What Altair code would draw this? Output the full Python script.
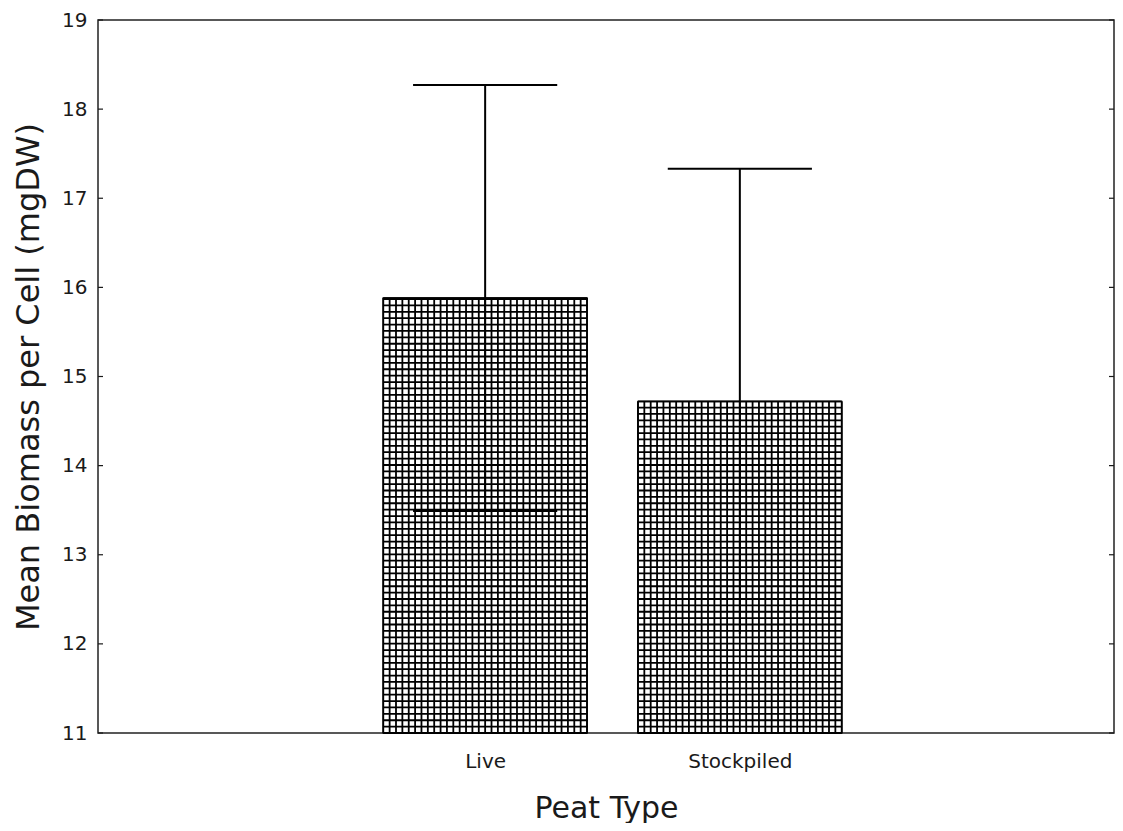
import json
import altair as alt
import pandas as pd

# ---- data ----
categories = ["Live", "Stockpiled"]
means = [15.88, 14.72]
errors = [2.39, 2.61]
y_ticks = [11, 12, 13, 14, 15, 16, 17, 18, 19]

Y_MIN, Y_MAX = 11, 19
BAR_HALF = 0.4
CAP_HALF = 0.283
HATCH_COLS = 32
HATCH_STEP_Y = 0.0716
FONT = "DejaVu Sans"
INK = "#1a1a1a"

W, H = 1016, 713

df = pd.DataFrame({"peat": categories, "mean": means, "err": errors})
df["pos"] = list(range(1, len(categories) + 1))
df["lo"] = df["mean"] - df["err"]
df["hi"] = df["mean"] + df["err"]
df["base"] = Y_MIN
df["xl"] = df["pos"] - BAR_HALF
df["xr"] = df["pos"] + BAR_HALF
df["cl"] = df["pos"] - CAP_HALF
df["cr"] = df["pos"] + CAP_HALF

ticks_df = pd.DataFrame({"tick": y_ticks})

x_scale = alt.Scale(domain=[-0.52, 3.469], nice=False, zero=False)
y_scale = alt.Scale(domain=[Y_MIN, Y_MAX], nice=False, zero=False)

x_axis = alt.Axis(
    values=df["pos"].tolist(),
    labelExpr=f"{json.dumps(categories)}[datum.value - 1]",
    title="Peat Type",
    grid=False, ticks=False, domain=False,
    labelFont=FONT, labelFontSize=20, labelColor=INK, labelPadding=18,
    titleFont=FONT, titleFontSize=30, titleFontWeight="normal", titleColor=INK,
    titlePadding=22,
)
y_axis = alt.Axis(
    values=y_ticks,
    title="Mean Biomass per Cell (mgDW)",
    grid=False, ticks=False, domain=False,
    labelFont=FONT, labelFontSize=20, labelColor=INK, labelPadding=11,
    titleFont=FONT, titleFontSize=32, titleFontWeight="normal", titleColor=INK,
    titlePadding=16,
)

def X(field):
    return alt.X(field, type="quantitative", scale=x_scale, axis=x_axis)

def Y(field):
    return alt.Y(field, type="quantitative", scale=y_scale, axis=y_axis)

base = alt.Chart(df)

bars = base.mark_rect(fill="white", stroke="black", strokeWidth=1.5).encode(
    x=X("xl"), x2="xr", y=Y("base"), y2="mean"
)

hatch_v = (
    base.transform_calculate(k=f"sequence(0, {HATCH_COLS + 1})")
    .transform_flatten(["k"])
    .transform_calculate(hx=f"datum.xl + datum.k * {2 * BAR_HALF / HATCH_COLS}")
    .mark_rule(color="black", strokeWidth=1.8)
    .encode(x=X("hx"), y=Y("base"), y2="mean")
)

hatch_h = (
    base.transform_calculate(
        j=f"sequence(0, floor((datum.mean - datum.base) / {HATCH_STEP_Y}) + 1)"
    )
    .transform_flatten(["j"])
    .transform_calculate(hy=f"datum.base + datum.j * {HATCH_STEP_Y}")
    .transform_filter("datum.hy <= datum.mean")
    .mark_rule(color="black", strokeWidth=1.8)
    .encode(x=X("xl"), x2="xr", y=Y("hy"))
)

top_edge = base.mark_rule(color="black", strokeWidth=1.8).encode(
    x=X("xl"), x2="xr", y=Y("mean")
)

whisker = base.mark_rule(color="black", strokeWidth=2).encode(
    x=X("pos"), y=Y("lo"), y2="hi"
)
cap_hi = base.mark_rule(color="black", strokeWidth=2).encode(
    x=X("cl"), x2="cr", y=Y("hi")
)
cap_lo = (
    base.transform_filter(f"datum.peat == {json.dumps(categories[0])}")
    .mark_rule(color="black", strokeWidth=2)
    .encode(x=X("cl"), x2="cr", y=Y("lo"))
)

tick_base = alt.Chart(ticks_df)
ticks_left = tick_base.mark_rule(color=INK, strokeWidth=1.2).encode(
    y=Y("tick"), x=alt.value(0), x2=alt.value(5)
)
ticks_right = tick_base.mark_rule(color=INK, strokeWidth=1.2).encode(
    y=Y("tick"), x=alt.value(W - 5), x2=alt.value(W)
)

chart = (
    alt.layer(bars, hatch_v, hatch_h, top_edge, whisker, cap_hi, cap_lo,
              ticks_left, ticks_right)
    .properties(
        width=W, height=H,
        autosize=alt.AutoSizeParams(type="none"),
        padding={"left": 90, "top": 12, "right": 1, "bottom": 90},
        background="white",
    )
    .configure_view(stroke="#222222", strokeWidth=1.5)
)

chart.save("out.html", embed_options={"renderer": "svg", "actions": False})
